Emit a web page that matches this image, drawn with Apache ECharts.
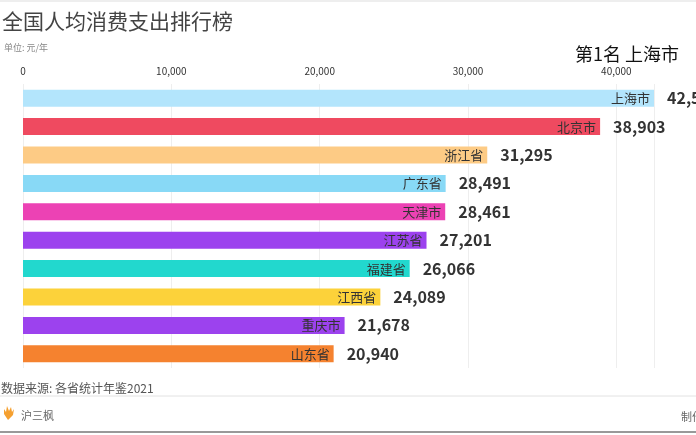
<!DOCTYPE html>
<html><head><meta charset="utf-8">
<script src="https://cdn.jsdelivr.net/npm/echarts@6/dist/echarts.min.js"></script>
<style>html,body{margin:0;padding:0;background:#fff;}#c{width:696px;height:435px;}</style>
</head><body><div id="c"></div>
<script>
const categories = ['上海市','北京市','浙江省','广东省','天津市','江苏省','福建省','江西省','重庆市','山东省'];
const values = [42536, 38903, 31295, 28491, 28461, 27201, 26066, 24089, 21678, 20940];
const colors = ['#B3E5FC','#EF4A60','#FDCB85','#88D9F6','#EC42B4','#9C42EE','#22D8CE','#FCD23A','#9C42EE','#F5822F'];
const tickValues = [0, 10000, 20000, 30000, 40000];

const chart = echarts.init(document.getElementById('c'));
const font = '"Noto Sans CJK SC", "Noto Sans", sans-serif';
chart.setOption({
  backgroundColor: '#fff',
  animation: false,
  textStyle: { fontFamily: font },
  title: [
    { text: '全国人均消费支出排行榜', left: -3, top: 6, textStyle: { fontSize: 21, fontWeight: 'normal', color: '#444', fontFamily: font } },
    { text: '单位: 元/年', left: -1, top: 38, textStyle: { fontSize: 9, fontWeight: 'normal', color: '#888', fontFamily: font } },
    { text: '第1名 上海市', right: 12, top: 40, textStyle: { fontSize: 18, fontWeight: 'normal', color: '#111', fontFamily: font } },
    { text: '数据来源: 各省统计年鉴2021', left: -4, top: 377, textStyle: { fontSize: 12, fontWeight: 'normal', color: '#555', fontFamily: font } },
    { text: '沪三枫', left: 16, top: 405, textStyle: { fontSize: 11, fontWeight: 'normal', color: '#666', fontFamily: font } },
    { text: '制作', left: 676, top: 406, textStyle: { fontSize: 11, fontWeight: 'normal', color: '#666', fontFamily: font } }
  ],
  graphic: [
    { type: 'line', shape: { x1: 0, y1: 1, x2: 696, y2: 1 }, style: { stroke: '#ddd', lineWidth: 1 } },
    { type: 'line', shape: { x1: 0, y1: 396, x2: 696, y2: 396 }, style: { stroke: '#e2e2e2', lineWidth: 1 } },
    { type: 'line', shape: { x1: 0, y1: 432, x2: 696, y2: 432 }, style: { stroke: '#999', lineWidth: 2 } },
    { type: 'polygon', shape: { points: [[8,420],[4,414],[4,409],[6,412],[7,406],[9,411],[11,407],[12,412],[14,409],[13,415]] }, style: { fill: '#F5A030' } }
  ],
  grid: { left: 23, right: 42, top: 84, bottom: 67 },
  xAxis: {
    type: 'value', position: 'top', min: 0, max: 'dataMax',
    interval: 10000,
    axisLine: { show: false }, axisTick: { show: false },
    axisLabel: { color: '#333', fontSize: 10, margin: 8, formatter: v => tickValues.includes(v) ? v.toLocaleString('en-US') : '' },
    splitLine: { show: true, lineStyle: { color: '#eee', width: 1 } }
  },
  yAxis: {
    type: 'category', data: categories, inverse: true,
    axisLine: { show: false }, axisTick: { show: false }, axisLabel: { show: false }
  },
  series: [
    {
      type: 'bar', data: values.map((v, i) => ({ value: v, itemStyle: { color: colors[i] } })),
      barWidth: 17,
      label: { show: true, position: 'insideRight', formatter: p => categories[p.dataIndex], color: '#333', fontSize: 13, distance: 4 },
      z: 2
    },
    {
      type: 'bar', data: values, barWidth: 17, barGap: '-100%',
      itemStyle: { color: 'rgba(0,0,0,0)' },
      label: { show: true, position: 'right', distance: 13, color: '#333', fontSize: 16, fontWeight: 'bold', formatter: p => p.value.toLocaleString('en-US') },
      z: 3
    }
  ]
});
</script>
</body></html>
